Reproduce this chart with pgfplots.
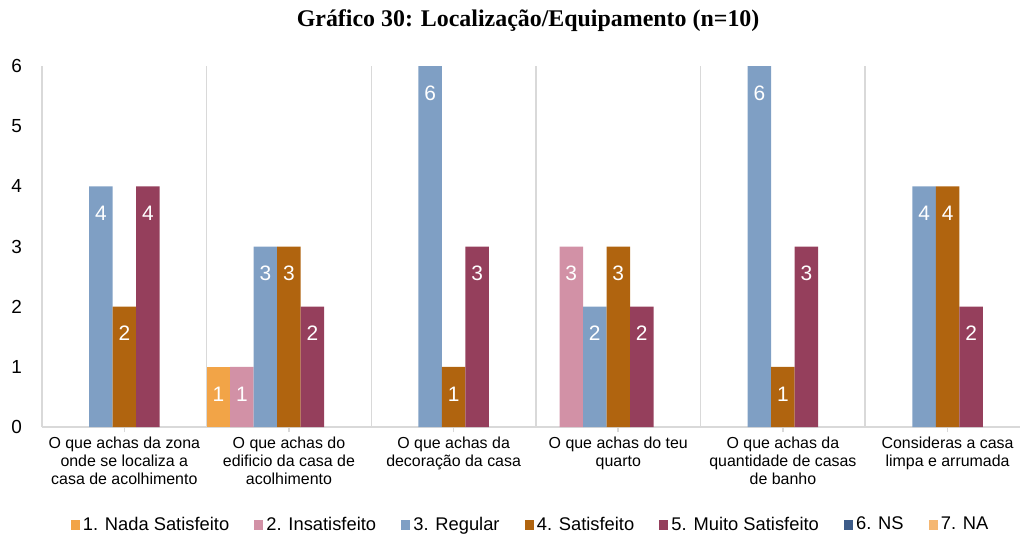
\documentclass[border=0pt]{standalone}
\usepackage{fontspec}
\setmainfont{Liberation Sans}
\newfontfamily\titlefont{Liberation Serif}
\usepackage{pgfplots}
\pgfplotsset{compat=1.18}
\definecolor{cA}{HTML}{F2A447}
\definecolor{cB}{HTML}{D291A6}
\definecolor{cC}{HTML}{7F9FC4}
\definecolor{cD}{HTML}{B0640F}
\definecolor{cE}{HTML}{953F5C}
\definecolor{cF}{HTML}{3D5C89}
\definecolor{cG}{HTML}{F5B772}
\definecolor{gridgray}{HTML}{D9D9D9}

\begin{document}
\begin{tikzpicture}
\useasboundingbox (-21bp,-54bp) rectangle (489bp,213.5bp);
\begin{axis}[
  width=489bp, height=180.5bp, scale only axis,
  xmin=-0.5, xmax=5.44, ymin=0, ymax=6,
  ybar=0pt, bar width=11.75bp,
  legend image code/.code={\fill[#1,fill opacity=1] (0bp,-2.3bp) rectangle (4.6bp,2.3bp);},
  axis x line*=bottom, axis y line*=left,
  separate axis lines,
  x axis line style={draw=gridgray, line width=0.8pt, -},
  y axis line style={draw=none},
  xtick={0,...,5},
  xticklabels={
    {O que achas da zona\\onde se localiza a\\casa de acolhimento},
    {O que achas do\\edificio da casa de\\acolhimento},
    {O que achas da\\decoração da casa},
    {O que achas do teu\\quarto},
    {O que achas da\\quantidade de casas\\de banho},
    {Consideras a casa\\limpa e arrumada}},
  minor xtick={-0.5,0.5,...,5.5},
  xminorgrids, minor grid style={draw=gridgray, line width=0.8pt},
  minor tick length=0pt,
  x tick style={draw=gridgray, line width=0.8pt},
  major tick length=2.5bp, tick align=outside,
  ytick={0,...,6}, y tick style={draw=none},
  /pgf/number format/assume math mode=true,
  yticklabel style={font=\fontsize{9.5}{11}\selectfont, xshift=-4bp},
  xticklabel style={font=\fontsize{8}{9}\selectfont, align=center, anchor=north, yshift=1bp},
  title={\titlefont\bfseries Gráfico 30: Localização/Equipamento (n=10)},
  title style={font=\fontsize{12}{14}\selectfont, at={(axis description cs:0.497,1)}, anchor=center, yshift=16.5bp},
  legend columns=7,
  legend cell align=left,
  legend style={draw=none, fill=none, font=\fontsize{9.2}{11}\selectfont,
    at={(axis description cs:0.5,0)}, anchor=center, yshift=-49bp,
    /tikz/every even column/.append style={column sep=11bp},
    nodes={inner sep=1.5bp}},
  every node near coord/.append style={white, font=\fontsize{10.5}{12}\selectfont, anchor=center, yshift=-13.5bp},
  every axis plot/.append style={draw=none},
]
\addplot[fill=cA, nodes near coords] coordinates {(1,1)};
\addplot[fill=cB, nodes near coords] coordinates {(1,1) (3,3)};
\addplot[fill=cC, nodes near coords] coordinates {(0,4) (1,3) (2,6) (3,2) (4,6) (5,4)};
\addplot[fill=cD, nodes near coords] coordinates {(0,2) (1,3) (2,1) (3,3) (4,1) (5,4)};
\addplot[fill=cE, nodes near coords] coordinates {(0,4) (1,2) (2,3) (3,2) (4,3) (5,2)};
\addplot[fill=cF, fill opacity=0] coordinates {(0,0) (1,0) (2,0) (3,0) (4,0) (5,0)};
\addplot[fill=cG, fill opacity=0] coordinates {(0,0) (1,0) (2,0) (3,0) (4,0) (5,0)};
\legend{1. Nada Satisfeito, 2. Insatisfeito, 3. Regular, 4. Satisfeito, 5. Muito Satisfeito, 6. NS, 7. NA}
\end{axis}
\end{tikzpicture}
\end{document}
